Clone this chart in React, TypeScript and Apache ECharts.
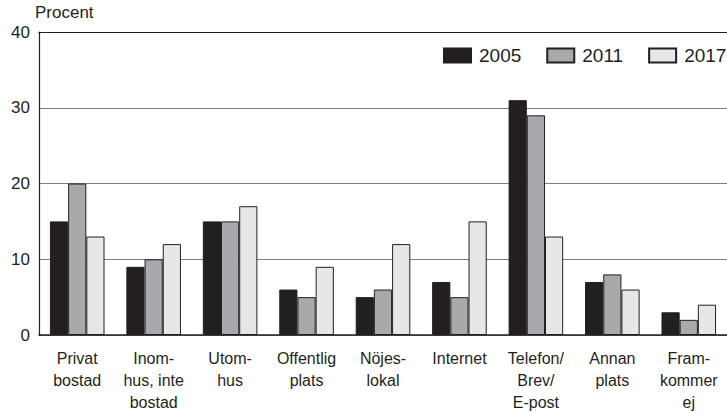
import React, { useEffect, useRef } from "react";
import * as echarts from "echarts";

const categories = [
  "Privat\nbostad",
  "Inom-\nhus, inte\nbostad",
  "Utom-\nhus",
  "Offentlig\nplats",
  "Nöjes-\nlokal",
  "Internet",
  "Telefon/\nBrev/\nE-post",
  "Annan\nplats",
  "Fram-\nkommer\nej",
];
const years = ["2005", "2011", "2017"];
const values2005 = [15, 9, 15, 6, 5, 7, 31, 7, 3];
const values2011 = [20, 10, 15, 5, 6, 5, 29, 8, 2];
const values2017 = [13, 12, 17, 9, 12, 15, 13, 6, 4];
const yTicks = { min: 0, max: 40, interval: 10 };
const colors = ["#231f20", "#a7a9ac", "#e6e7e8"];

export default function App() {
  const ref = useRef<HTMLDivElement>(null);
  useEffect(() => {
    if (!ref.current) return;
    const chart = echarts.init(ref.current, null, { renderer: "svg" });
    const font = "'Liberation Sans', Arial, Helvetica, sans-serif";
    const allValues = [values2005, values2011, values2017];
    chart.setOption({
      animation: false,
      textStyle: { fontFamily: font, color: "#231f20" },
      grid: { left: 39, top: 32, bottom: 76, width: 694 },
      legend: {
        data: years,
        left: 443,
        top: 46,
        padding: 0,
        itemWidth: 27,
        itemHeight: 14,
        itemGap: 25,
        icon: "rect",
        textStyle: { fontSize: 19, color: "#231f20", fontFamily: font, padding: [0, 0, 0, 3] },
      },
      graphic: [
        {
          type: "text",
          left: 35,
          top: 4,
          style: { text: "Procent", fontSize: 17, fill: "#231f20", fontFamily: font },
        },
      ],
      xAxis: [
        {
          type: "category",
          data: categories,
          axisLine: { lineStyle: { color: "#231f20", width: 1.5 } },
          axisTick: { show: false },
          axisLabel: {
            interval: 0,
            fontSize: 16,
            lineHeight: 22,
            margin: 12,
            color: "#231f20",
            fontFamily: font,
          },
        },
        {
          type: "category",
          data: categories,
          position: "top",
          axisLine: { show: true, lineStyle: { color: "#231f20", width: 1.2 } },
          axisTick: { show: false },
          axisLabel: { show: false },
        },
      ],
      yAxis: {
        type: "value",
        min: yTicks.min,
        max: yTicks.max,
        interval: yTicks.interval,
        axisLine: { show: true, lineStyle: { color: "#231f20", width: 1.2 } },
        axisTick: { show: false },
        axisLabel: { fontSize: 17, color: "#231f20", margin: 9, fontFamily: font },
        splitLine: { lineStyle: { color: "#808080", width: 1.2 } },
      },
      series: years.map((y, i) => ({
        name: y,
        type: "bar",
        data: allValues[i],
        barGap: "0%",
        barCategoryGap: "28.6%",
        itemStyle: { color: colors[i], borderColor: "#231f20", borderWidth: 1 },
      })),
    });
    return () => chart.dispose();
  }, []);
  return (
    <div
      ref={ref}
      style={{ position: "fixed", left: 0, top: 0, width: 727, height: 413, background: "#fff" }}
    />
  );
}
